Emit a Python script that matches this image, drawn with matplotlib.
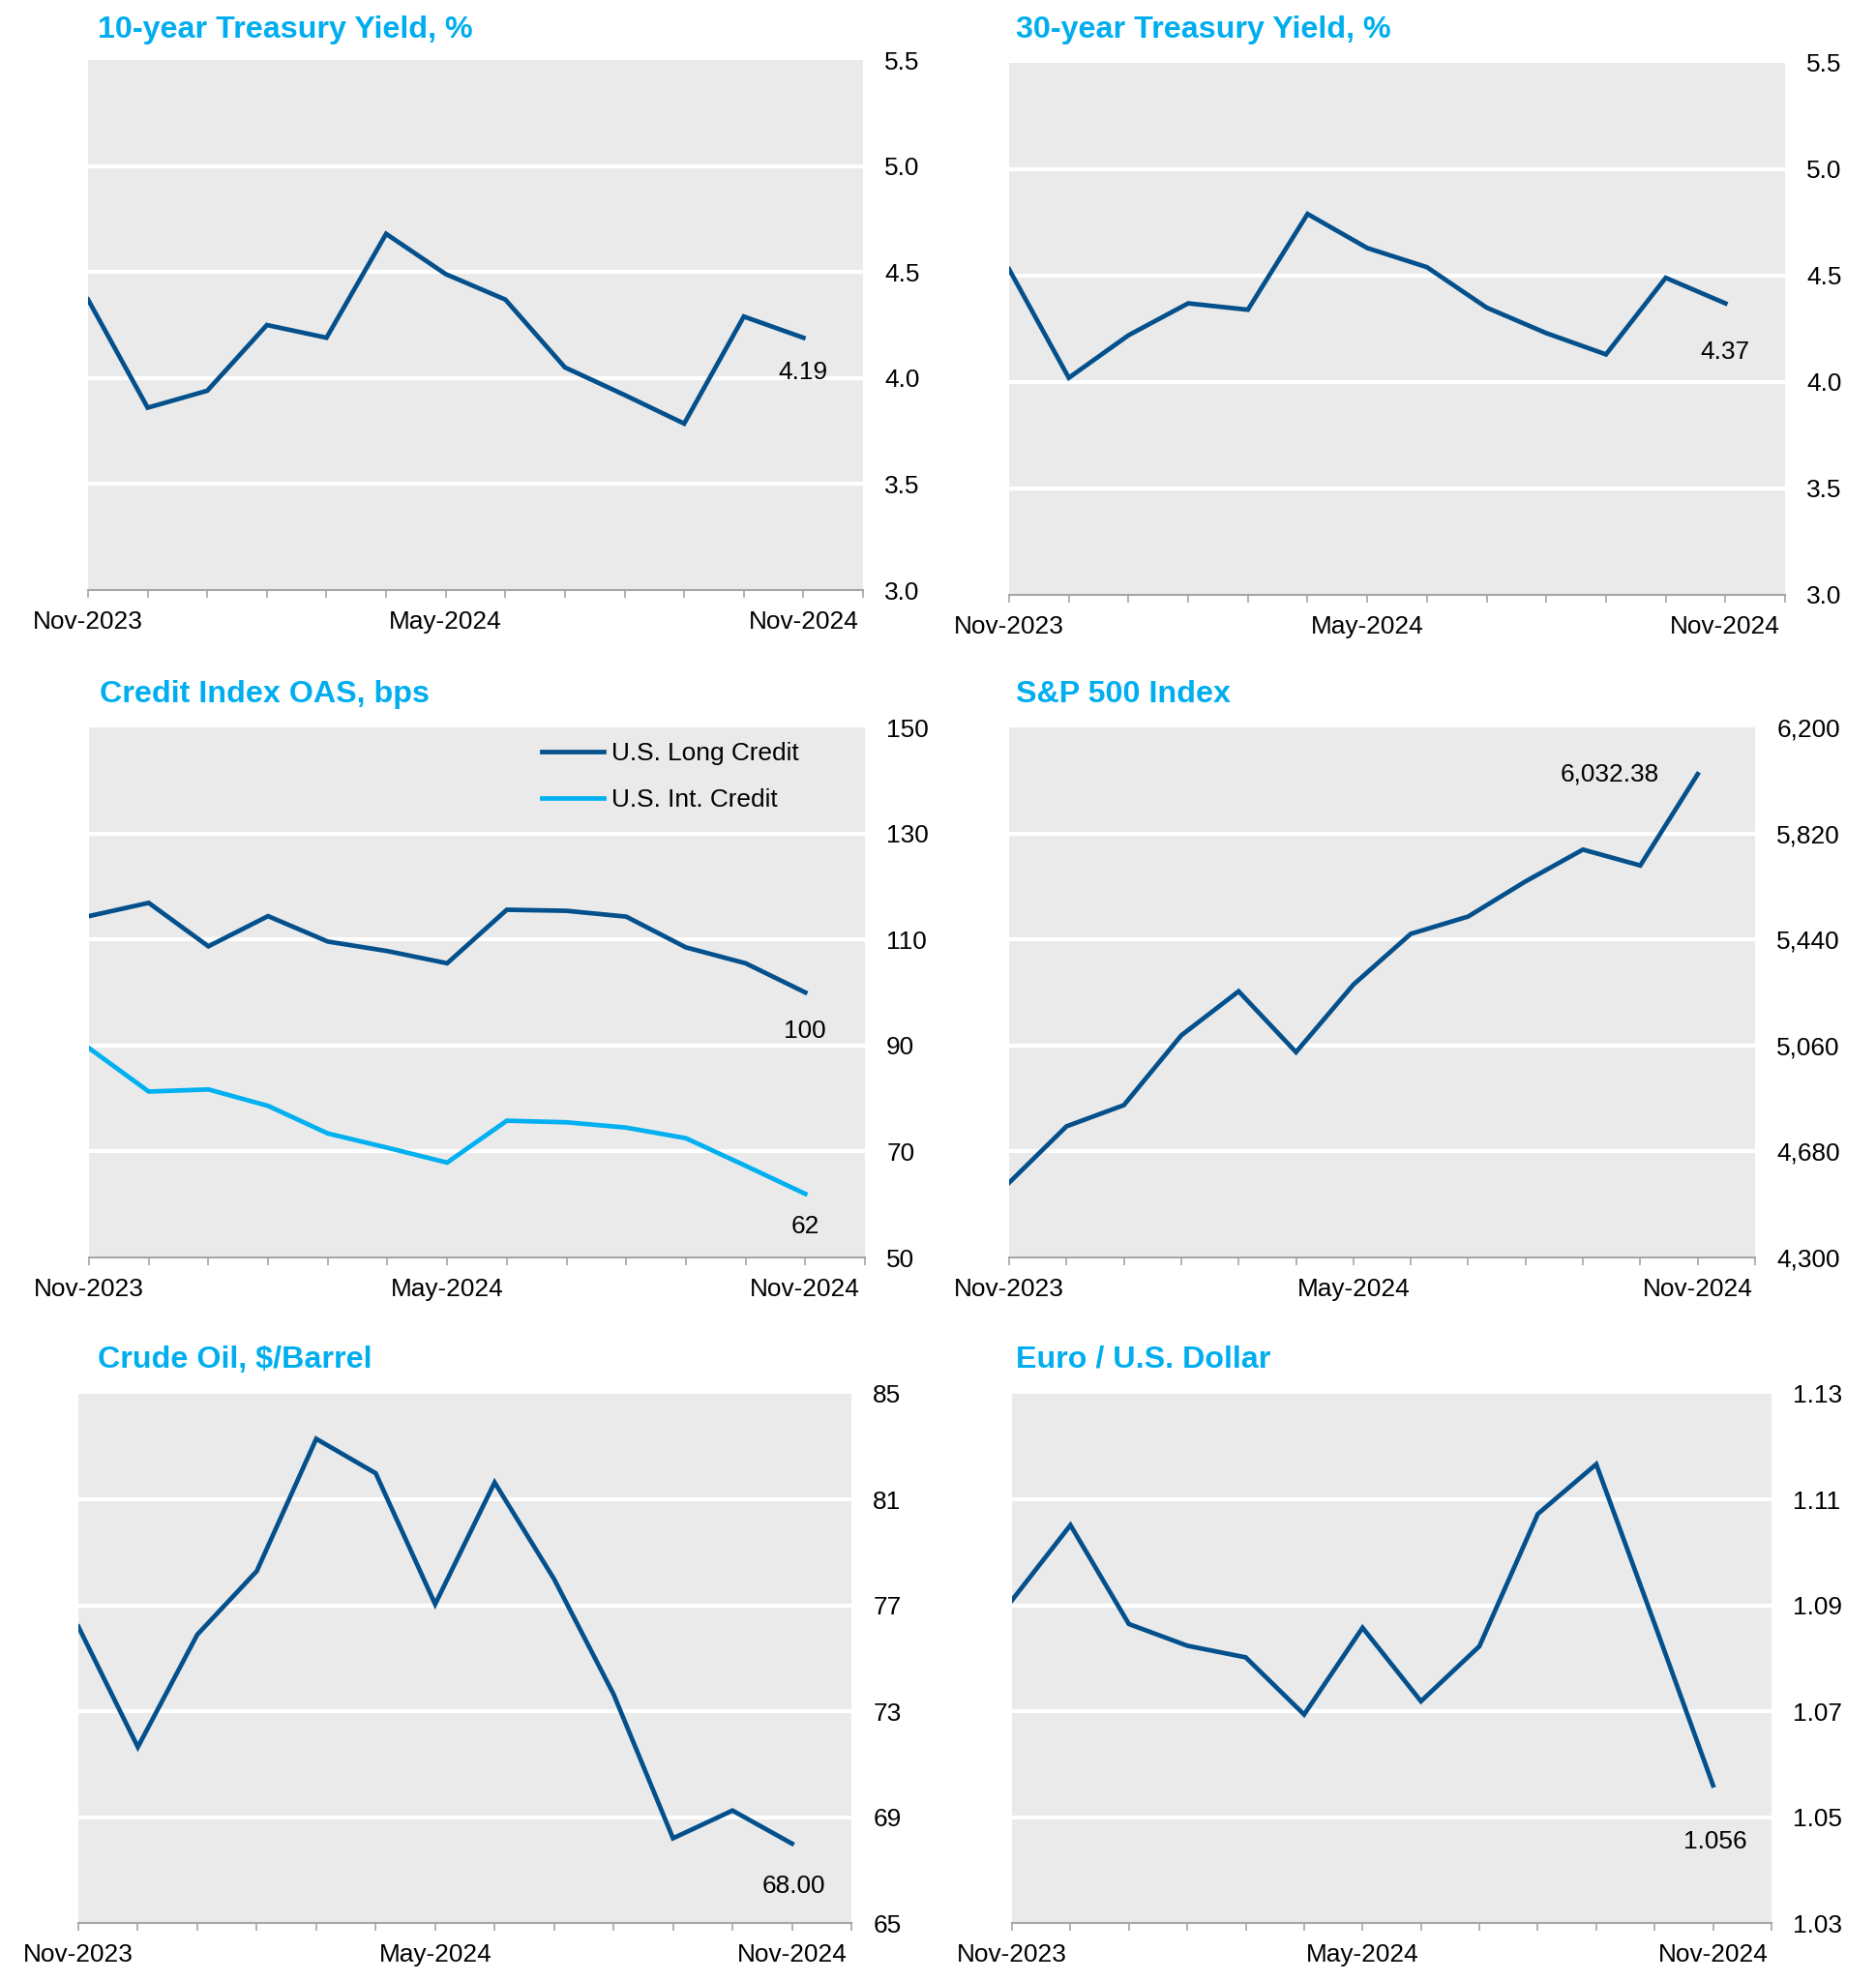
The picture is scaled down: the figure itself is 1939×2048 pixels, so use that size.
import matplotlib
matplotlib.use("Agg")
import matplotlib.pyplot as plt
import numpy as np

plt.rcParams['font.family'] = ['Liberation Sans', 'DejaVu Sans']

months = ["Nov-2023", "Dec-2023", "Jan-2024", "Feb-2024", "Mar-2024", "Apr-2024", "May-2024",
          "Jun-2024", "Jul-2024", "Aug-2024", "Sep-2024", "Oct-2024", "Nov-2024"]
label_months = ["Nov-2023", "May-2024", "Nov-2024"]

ust10 = [4.37, 3.86, 3.94, 4.25, 4.19, 4.68, 4.49, 4.37, 4.05, 3.92, 3.785, 4.29, 4.19]
ust30 = [4.53, 4.02, 4.22, 4.37, 4.34, 4.79, 4.63, 4.54, 4.35, 4.23, 4.13, 4.49, 4.37]
long_credit = [114.4, 116.9, 108.7, 114.4, 109.6, 107.8, 105.5, 115.6, 115.4, 114.3, 108.5, 105.5, 100]
int_credit = [89.5, 81.3, 81.7, 78.6, 73.4, 70.7, 67.9, 75.8, 75.5, 74.5, 72.5, 67.3, 62]
spx = [4568, 4770, 4846, 5096, 5254, 5036, 5278, 5460, 5522, 5648, 5762, 5705, 6032.38]
oil = [76.2, 71.65, 75.9, 78.3, 83.3, 82.0, 77.05, 81.65, 78.0, 73.65, 68.2, 69.25, 68.00]
eurusd = [1.091, 1.1052, 1.0865, 1.0824, 1.0802, 1.0694, 1.0858, 1.0719, 1.0823, 1.1073, 1.1167, 1.0865, 1.056]

yt10 = [3.0, 3.5, 4.0, 4.5, 5.0, 5.5]
yt_credit = [50, 70, 90, 110, 130, 150]
yt_spx = [4300, 4680, 5060, 5440, 5820, 6200]
yt_oil = [65, 69, 73, 77, 81, 85]
yt_eur = [1.03, 1.05, 1.07, 1.09, 1.11, 1.13]

DARK = "#03508C"
LIGHT = "#00B0F0"
TITLE = "#00AEEF"
BG = "#EAEAEA"
AXC = "#A6A6A6"

fig = plt.figure(figsize=(19.4, 20.48), dpi=100)
W, H = 1940, 2048

def make_ax(l, r, t, b):
    return fig.add_axes([l / W, 1 - b / H, (r - l) / W, (b - t) / H])

def style(ax, yticks, fmt, title, tx, ty):
    ax.set_facecolor(BG)
    n = len(months)
    ax.set_xlim(0, n)
    ax.set_ylim(yticks[0], yticks[-1])
    ax.set_xticks(np.arange(n + 1))
    lbls = []
    for i in range(n + 1):
        if i < n and months[i] in label_months:
            lbls.append(months[i])
        else:
            lbls.append("")
    ax.set_xticklabels(lbls)
    ax.set_yticks(yticks)
    ax.set_yticklabels([fmt(v) for v in yticks])
    ax.yaxis.tick_right()
    ax.tick_params(axis='y', length=0, pad=16, labelsize=18.9, colors='black')
    ax.tick_params(axis='x', length=6, width=1.2, color=AXC, pad=9, labelsize=18.9)
    for s in ['top', 'left', 'right']:
        ax.spines[s].set_visible(False)
    ax.spines['bottom'].set_color(AXC)
    ax.spines['bottom'].set_linewidth(1.5)
    for v in yticks[1:-1]:
        ax.axhline(v, color='white', lw=3.0, zorder=1)
    fig.text(tx / W, 1 - ty / H, title, color=TITLE, fontsize=23.2, fontweight='bold',
             ha='left', va='center')

x = np.arange(len(months))

# Panel 1
ax1 = make_ax(91, 892, 62, 610)
style(ax1, yt10, lambda v: f"{v:.1f}", "10-year Treasury Yield, %", 101, 31)
ax1.plot(x, ust10, color=DARK, lw=3.4, zorder=3, solid_joinstyle='miter')
ax1.annotate(f"{ust10[-1]:.2f}", (x[-1], ust10[-1]), xytext=(0, -36), textcoords='offset pixels',
             ha='center', va='center', fontsize=18.9)

# Panel 2
ax2 = make_ax(1043, 1845, 65, 615)
style(ax2, yt10, lambda v: f"{v:.1f}", "30-year Treasury Yield, %", 1050, 31)
ax2.plot(x, ust30, color=DARK, lw=3.4, zorder=3, solid_joinstyle='miter')
ax2.annotate(f"{ust30[-1]:.2f}", (x[-1], ust30[-1]), xytext=(0, -50), textcoords='offset pixels',
             ha='center', va='center', fontsize=18.9)

# Panel 3
ax3 = make_ax(92, 894, 752, 1300)
style(ax3, yt_credit, lambda v: f"{v:d}", "Credit Index OAS, bps", 103, 718)
ax3.plot(x, long_credit, color=DARK, lw=3.4, zorder=3, label="U.S. Long Credit", solid_joinstyle='miter')
ax3.plot(x, int_credit, color=LIGHT, lw=3.4, zorder=3, label="U.S. Int. Credit", solid_joinstyle='miter')
ax3.annotate(f"{long_credit[-1]:.0f}", (x[-1], long_credit[-1]), xytext=(0, -40), textcoords='offset pixels',
             ha='center', va='center', fontsize=18.9)
ax3.annotate(f"{int_credit[-1]:.0f}", (x[-1], int_credit[-1]), xytext=(0, -34), textcoords='offset pixels',
             ha='center', va='center', fontsize=18.9)
ax3.legend(loc='upper left', bbox_to_anchor=(0.583, 0.972), frameon=False, fontsize=18.9,
           handlelength=2.45, handletextpad=0.3, labelspacing=0.9, borderpad=0, borderaxespad=0)

# Panel 4
ax4 = make_ax(1043, 1814, 752, 1300)
style(ax4, yt_spx, lambda v: f"{v:,d}", "S&P 500 Index", 1050, 718)
ax4.plot(x, spx, color=DARK, lw=3.4, zorder=3, solid_joinstyle='miter')
ax4.annotate(f"{spx[-1]:,.2f}", (x[-1], spx[-1]), xytext=(-40, 0), textcoords='offset pixels',
             ha='right', va='center', fontsize=18.9)

# Panel 5
ax5 = make_ax(81, 880, 1441, 1988)
style(ax5, yt_oil, lambda v: f"{v:d}", "Crude Oil, $/Barrel", 101, 1406)
ax5.plot(x, oil, color=DARK, lw=3.4, zorder=3, solid_joinstyle='miter')
ax5.annotate(f"{oil[-1]:.2f}", (x[-1], oil[-1]), xytext=(2, -44), textcoords='offset pixels',
             ha='center', va='center', fontsize=18.9)

# Panel 6
ax6 = make_ax(1046, 1831, 1441, 1988)
style(ax6, yt_eur, lambda v: f"{v:.2f}", "Euro / U.S. Dollar", 1050, 1406)
ax6.plot(x, eurusd, color=DARK, lw=3.4, zorder=3, solid_joinstyle='miter')
ax6.annotate(f"{eurusd[-1]:.3f}", (x[-1], eurusd[-1]), xytext=(2, -58), textcoords='offset pixels',
             ha='center', va='center', fontsize=18.9)

fig.savefig("out.png", dpi=100, facecolor='white')
